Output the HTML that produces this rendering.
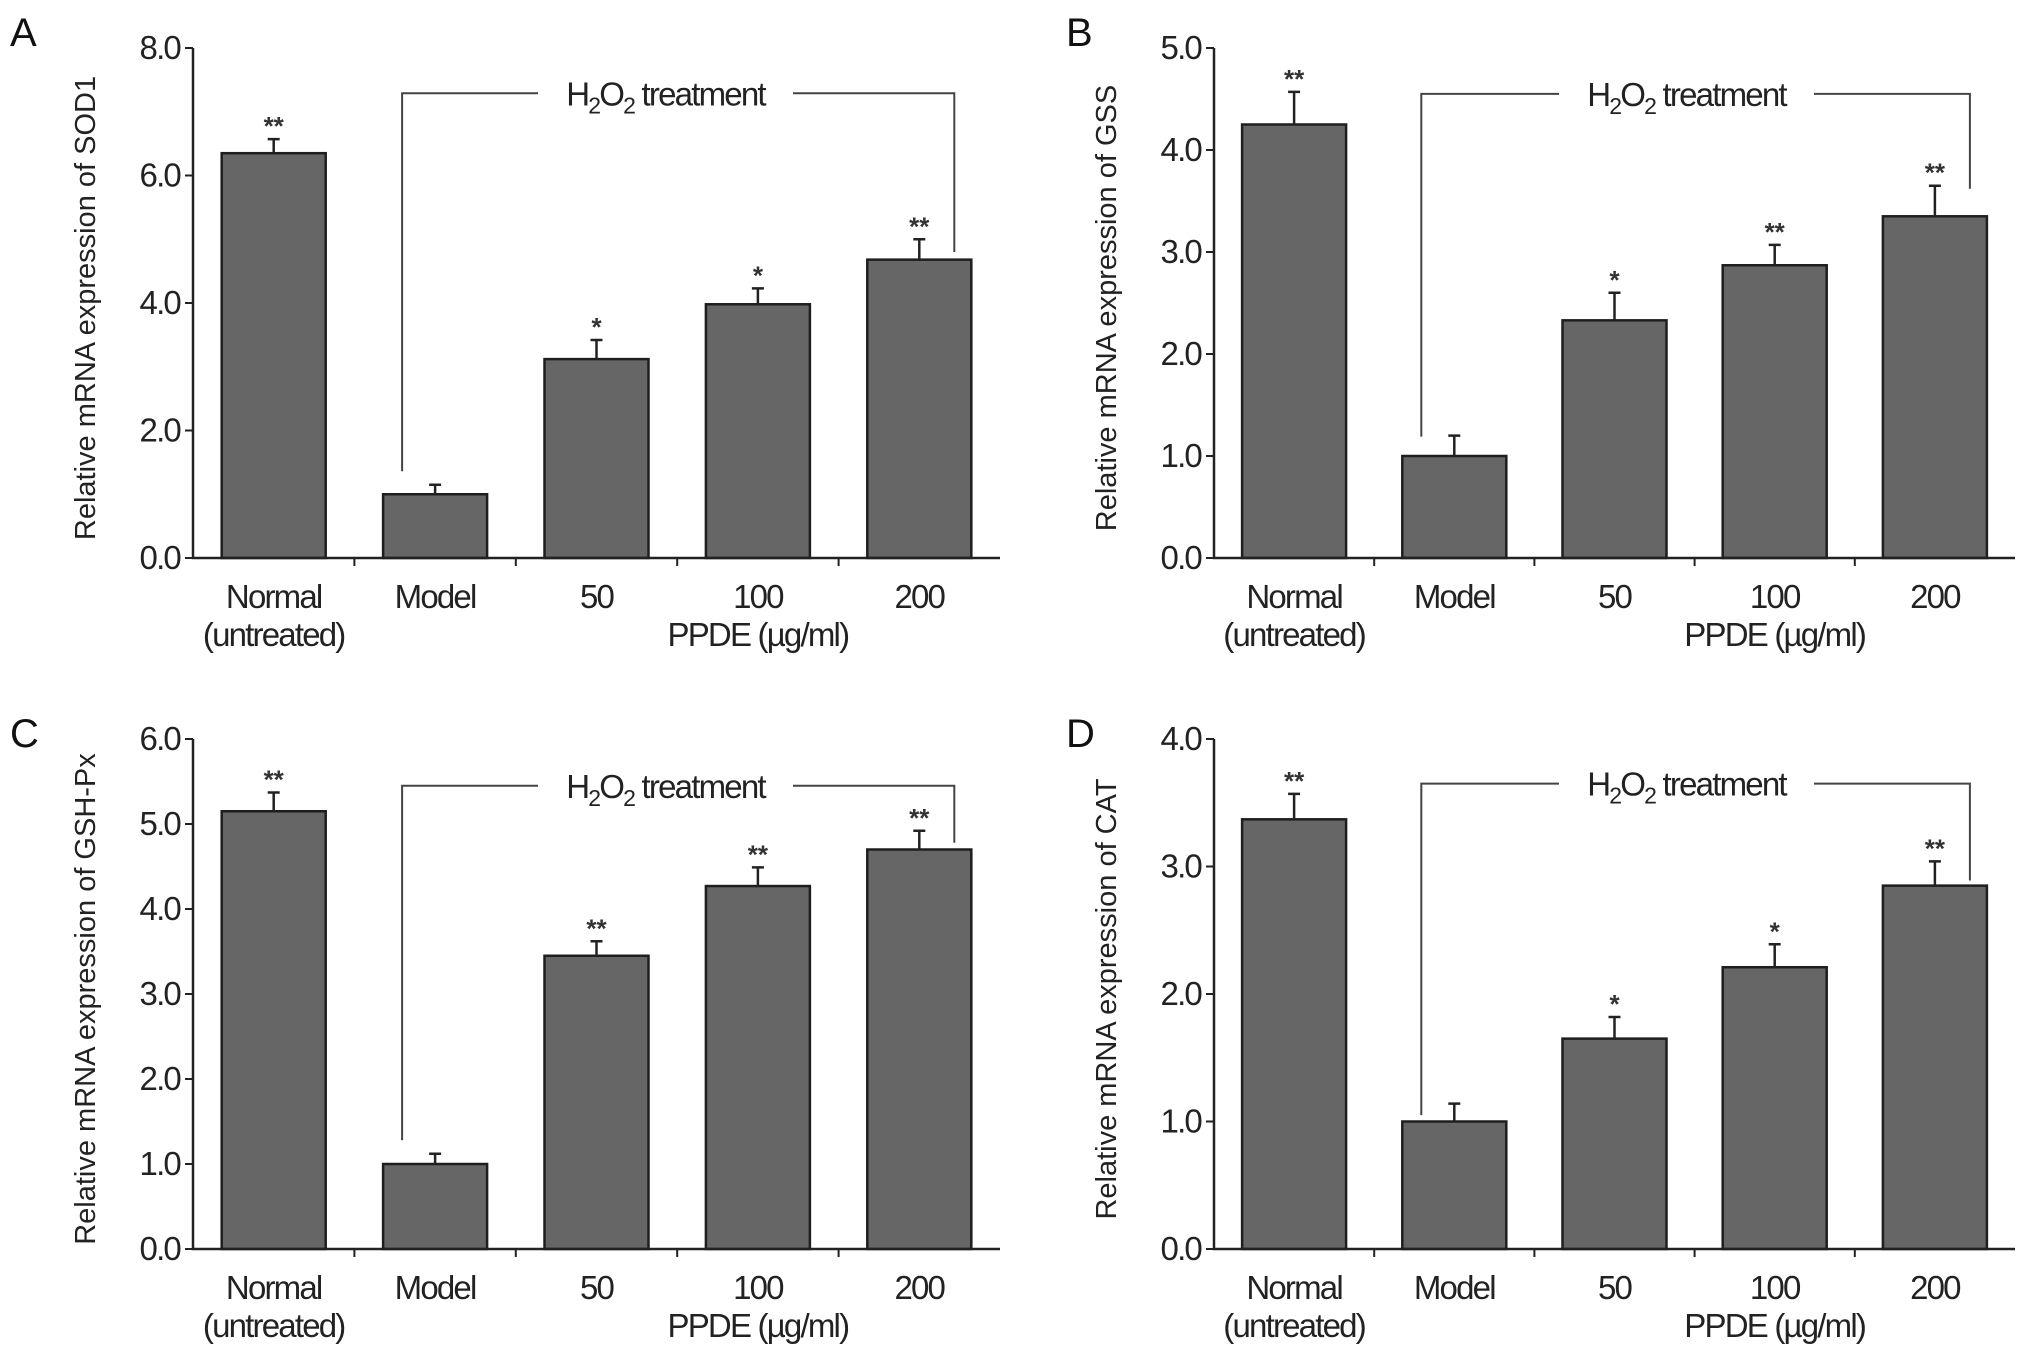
<!DOCTYPE html>
<html><head><meta charset="utf-8"><style>
html,body{margin:0;padding:0;background:#fff;}
svg{display:block;font-family:"Liberation Sans Narrow","Liberation Sans",sans-serif;}
.t{font-size:33px;fill:#222;letter-spacing:-1.8px;}
.yt{font-family:"Liberation Sans",sans-serif;font-size:29px;fill:#222;}
</style></head><body>
<svg id="chart" width="2032" height="1357" viewBox="0 0 2032 1357" xmlns="http://www.w3.org/2000/svg"></svg>
<script>
const categories = ["Normal", "Model", "50", "100", "200"];
const categories2 = ["(untreated)", "", "", "", ""];
const valuesA = [6.35, 1.0, 3.12, 3.98, 4.68];
const errorsA = [0.22, 0.15, 0.3, 0.25, 0.32];
const starsA = ["**", "", "*", "*", "**"];
const valuesB = [4.25, 1.0, 2.33, 2.87, 3.35];
const errorsB = [0.32, 0.2, 0.27, 0.2, 0.3];
const starsB = ["**", "", "*", "**", "**"];
const valuesC = [5.15, 1.0, 3.45, 4.27, 4.7];
const errorsC = [0.22, 0.12, 0.17, 0.22, 0.22];
const starsC = ["**", "", "**", "**", "**"];
const valuesD = [3.37, 1.0, 1.65, 2.21, 2.85];
const errorsD = [0.2, 0.14, 0.17, 0.18, 0.19];
const starsD = ["**", "", "*", "*", "**"];
const ticksA = ["0.0", "2.0", "4.0", "6.0", "8.0"];
const ticksB = ["0.0", "1.0", "2.0", "3.0", "4.0", "5.0"];
const ticksC = ["0.0", "1.0", "2.0", "3.0", "4.0", "5.0", "6.0"];
const ticksD = ["0.0", "1.0", "2.0", "3.0", "4.0"];
const bracketA = [7.29, 1.36, 4.8];
const bracketB = [4.55, 1.19, 3.62];
const bracketC = [5.45, 1.28, 4.78];
const bracketD = [3.65, 1.05, 2.89];
const titles = ["Relative mRNA expression of SOD1", "Relative mRNA expression of GSS", "Relative mRNA expression of GSH-Px", "Relative mRNA expression of CAT"];

const NS = "http://www.w3.org/2000/svg";
const svg = document.getElementById("chart");
function mk(tag, attrs, parent, txt) {
  const e = document.createElementNS(NS, tag);
  for (const k in attrs) e.setAttribute(k, attrs[k]);
  if (txt !== undefined) e.textContent = txt;
  (parent || svg).appendChild(e);
  return e;
}
const panels = [
  {id:"a", letter:"A", lx:10, ly:46, x0:193, x1:1000, yT:48, yB:558, ticks:ticksA, vals:valuesA, errs:errorsA, stars:starsA, br:bracketA},
  {id:"b", letter:"B", lx:1066, ly:46, x0:1214, x1:2015, yT:48, yB:558, ticks:ticksB, vals:valuesB, errs:errorsB, stars:starsB, br:bracketB},
  {id:"c", letter:"C", lx:10, ly:747, x0:193, x1:1000, yT:739, yB:1249, ticks:ticksC, vals:valuesC, errs:errorsC, stars:starsC, br:bracketC},
  {id:"d", letter:"D", lx:1066, ly:747, x0:1214, x1:2015, yT:739, yB:1249, ticks:ticksD, vals:valuesD, errs:errorsD, stars:starsD, br:bracketD}
];
panels.forEach((p, pi) => {
  const g = mk("g", {});
  
  
  const maxV = parseFloat(p.ticks[p.ticks.length - 1]);
  const y = v => p.yB - (v / maxV) * (p.yB - p.yT);
  const slot = (p.x1 - p.x0) / categories.length;
  const cx = i => p.x0 + slot * (i + 0.5);
  const bw = 104;
  const letter = mk("text", {x:p.lx, y:p.ly, style:"font-family:'Liberation Sans',sans-serif;font-size:40px;fill:#111"}, g, p.letter);
  
  
  p.vals.forEach((v, i) => {
    const bar = mk("rect", {x:cx(i) - bw/2, y:y(v), width:bw, height:p.yB - y(v), fill:"#666", stroke:"#1e1e1e", "stroke-width":2.5}, g);
    
    
    const et = y(v + p.errs[i]);
    const eb = mk("path", {d:`M${cx(i)} ${y(v)} V${et} M${cx(i)-6} ${et} H${cx(i)+6}`, stroke:"#222", "stroke-width":2.5, fill:"none"}, g);
    
    
    if (p.stars[i]) {
      const st = mk("text", {x:cx(i), y:et - 4, "text-anchor":"middle", style:"font-family:'Liberation Sans',sans-serif;font-size:26px;font-weight:bold;fill:#333"}, g, p.stars[i]);
      
      
    }
    const c1 = mk("text", {x:cx(i), y:p.yB + 50, "text-anchor":"middle", class:"t"}, g, categories[i]);
    
    
    if (categories2[i]) {
      const c2 = mk("text", {x:cx(i), y:p.yB + 88, "text-anchor":"middle", class:"t"}, g, categories2[i]);
      
      
    }
  });
  const ax = mk("path", {d:`M${p.x0} ${p.yT} V${p.yB} H${p.x1}`, stroke:"#222", "stroke-width":2.5, fill:"none"}, g);
  
  
  for (let i = 1; i < categories.length; i++) {
    const tk = mk("line", {x1:p.x0 + slot*i, x2:p.x0 + slot*i, y1:p.yB, y2:p.yB + 8, stroke:"#222", "stroke-width":2}, g);
    
    
  }
  p.ticks.forEach(t => {
    const v = parseFloat(t);
    const tk = mk("line", {x1:p.x0 - 8, x2:p.x0, y1:y(v), y2:y(v), stroke:"#222", "stroke-width":2}, g);
    
    
    const tl = mk("text", {x:p.x0 - 13, y:y(v) + 11, "text-anchor":"end", class:"t"}, g, t);
    
    
  });
  const ty = (p.yT + p.yB) / 2 + 5;
  const tt = mk("text", {x:0, y:0, "text-anchor":"middle", class:"yt", transform:`translate(${p.x0 - 98},${ty}) rotate(-90)`}, g, titles[pi]);
  
  
  const xt = mk("text", {x:cx(3), y:p.yB + 88, "text-anchor":"middle", class:"t"}, g, "PPDE (\u00b5g/ml)");
  
  
  const lx = cx(1) - 33, rx = cx(4) + 35;
  const by = y(p.br[0]);
  const labelL = p.x0 + 345, labelR = p.x0 + 600;
  const br = mk("path", {d:`M${lx} ${y(p.br[1])} V${by} H${labelL} M${labelR} ${by} H${rx} V${y(p.br[2])}`, stroke:"#444", "stroke-width":2, fill:"none"}, g);
  
  
  const bl = mk("text", {x:(labelL + labelR)/2, y:by + 12, "text-anchor":"middle", class:"t"}, g);
  
  
  mk("tspan", {}, bl, "H");
  mk("tspan", {dy:8, style:"font-size:23px"}, bl, "2");
  mk("tspan", {dy:-8}, bl, "O");
  mk("tspan", {dy:8, style:"font-size:23px"}, bl, "2");
  mk("tspan", {dy:-8}, bl, " treatment");
});
</script>
</body></html>
